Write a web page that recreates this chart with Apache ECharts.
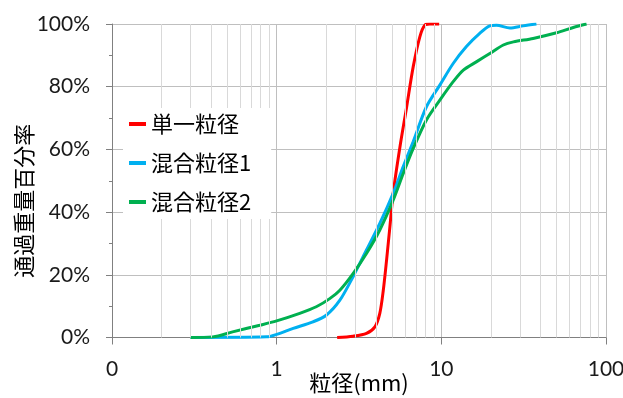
<!DOCTYPE html>
<html>
<head>
<meta charset="utf-8">
<script src="https://cdn.jsdelivr.net/npm/echarts@6/dist/echarts.min.js"></script>
<style>html,body{margin:0;padding:0;background:#fff;width:100%;height:100%;overflow:hidden;}#c{width:100vw;height:100vh;}</style>
</head>
<body>
<div id="c"></div>
<script>
// 単一粒径
var sizeSingle = [2.33, 2.91, 3.51, 3.95, 4.23, 4.44, 4.65, 4.87, 5.10, 5.60, 6.15, 6.75, 7.41, 7.95, 8.52, 9.70];
var passSingle = [0, 0.4, 1.3, 3.4, 7.7, 15, 24.7, 35.3, 46, 60.6, 73.4, 86.4, 96, 99.7, 100, 100];
// 混合粒径1
var sizeMix1 = [0.30, 0.87, 1.0, 1.26, 1.66, 2.0, 2.42, 2.91, 3.51, 4.23, 5.10, 5.87, 6.75, 8.12, 9.79, 11.8, 14.2, 17.1, 19.7, 21.6, 26.1, 31.4, 37.8];
var passMix1 = [0, 0.2, 1, 2.9, 5, 7.1, 11.9, 19.4, 27.9, 36.4, 46, 54.5, 62.5, 73.6, 80.5, 87.4, 92.8, 97, 99.4, 99.6, 98.7, 99.4, 100];
// 混合粒径2
var sizeMix2 = [0.30, 0.41, 0.54, 0.79, 1.0, 1.38, 1.74, 2.10, 2.42, 2.91, 3.51, 4.23, 5.10, 5.87, 6.75, 8.12, 9.79, 11.8, 13.6, 16.4, 19.7, 23.8, 27.4, 36.1, 50.1, 63.3, 76.2];
var passMix2 = [0, 0.2, 1.8, 3.9, 5.3, 7.7, 9.8, 12.4, 15.1, 20.4, 26.8, 34.3, 43.8, 52.3, 60.3, 69.4, 75.7, 81.6, 85.3, 88, 90.6, 93.3, 94.3, 95.4, 97.2, 98.9, 100];
// minor vertical grid positions
var minorGrid = [0.2,0.3,0.4,0.5,0.6,0.7,0.8,0.9,2,3,4,5,6,7,8,9,20,30,40,50,60,70,80,90];
var seriesNames = ['単一粒径', '混合粒径1', '混合粒径2'];
var colors = ['#FF0000', '#00B0F0', '#00B050'];

function pairs(xs, ys) { return xs.map(function (x, i) { return [x, ys[i]]; }); }

var chart = echarts.init(document.getElementById('c'), null, {renderer: 'canvas'});
var labelFont = 'Lato, "Open Sans", sans-serif';
var cjkFont = '"Noto Sans CJK JP", sans-serif';

chart.setOption({
  animation: false,
  backgroundColor: '#fff',
  grid: {left: 112, right: 17, top: 24, bottom: 60.5, containLabel: false, outerBoundsMode: 'none'},
  legend: {
    orient: 'vertical', left: 123, top: 108,
    backgroundColor: '#fff',
    padding: [5, 20, 6, 6],
    itemGap: 17, itemWidth: 17, itemHeight: 4, icon: 'rect',
    textStyle: {fontSize: 22, fontFamily: cjkFont, color: '#000'},
    data: seriesNames, z: 10
  },
  xAxis: {
    type: 'log', logBase: 10, min: 0.1, max: 100,
    name: '粒径(mm)', nameLocation: 'middle', nameGap: 34, nameMoveOverlap: false,
    nameTextStyle: {fontSize: 22, fontFamily: cjkFont, color: '#000'},
    axisLine: {show: true, lineStyle: {color: '#808080', width: 1}},
    axisTick: {show: true, length: 7, lineStyle: {color: '#808080'}},
    axisLabel: {margin: 21, fontSize: 21, fontFamily: labelFont, color: '#1a1a1a',
      formatter: function (v) { return v < 1 ? '0' : String(Math.round(v)); }},
    splitLine: {show: true, lineStyle: {color: '#BFBFBF', width: 1}}
  },
  yAxis: {
    type: 'value', min: 0, max: 100, interval: 20,
    name: '通過重量百分率', nameLocation: 'middle', nameGap: 77, nameMoveOverlap: false,
    nameTextStyle: {fontSize: 22, fontFamily: cjkFont, color: '#000', padding: [0, 40, 0, 0]},
    axisLine: {show: true, lineStyle: {color: '#808080', width: 1}},
    axisTick: {show: true, length: 6, lineStyle: {color: '#808080'}},
    minorTick: {show: true, splitNumber: 2, length: 3, lineStyle: {color: '#808080'}},
    axisLabel: {margin: 22, fontSize: 21, fontFamily: labelFont, color: '#1a1a1a',
      formatter: function (v) { return v + '%'; }},
    splitLine: {show: true, lineStyle: {color: '#BFBFBF', width: 1}}
  },
  series: [
    {
      name: 'minor', type: 'line', data: [], z: 1, silent: true,
      markLine: {
        silent: true, symbol: ['none', 'none'], label: {show: false},
        lineStyle: {color: '#D9D9D9', width: 1, type: 'solid'},
        emphasis: {disabled: true},
        data: minorGrid.map(function (v) { return {xAxis: v}; })
      }
    },
    {name: seriesNames[0], type: 'line', smooth: 0.3, symbol: 'none', z: 3,
      lineStyle: {color: colors[0], width: 3}, itemStyle: {color: colors[0]}, data: pairs(sizeSingle, passSingle)},
    {name: seriesNames[1], type: 'line', smooth: 0.3, symbol: 'none', z: 3,
      lineStyle: {color: colors[1], width: 3}, itemStyle: {color: colors[1]}, data: pairs(sizeMix1, passMix1)},
    {name: seriesNames[2], type: 'line', smooth: 0.3, symbol: 'none', z: 4,
      lineStyle: {color: colors[2], width: 3}, itemStyle: {color: colors[2]}, data: pairs(sizeMix2, passMix2)}
  ]
});
</script>
</body>
</html>
